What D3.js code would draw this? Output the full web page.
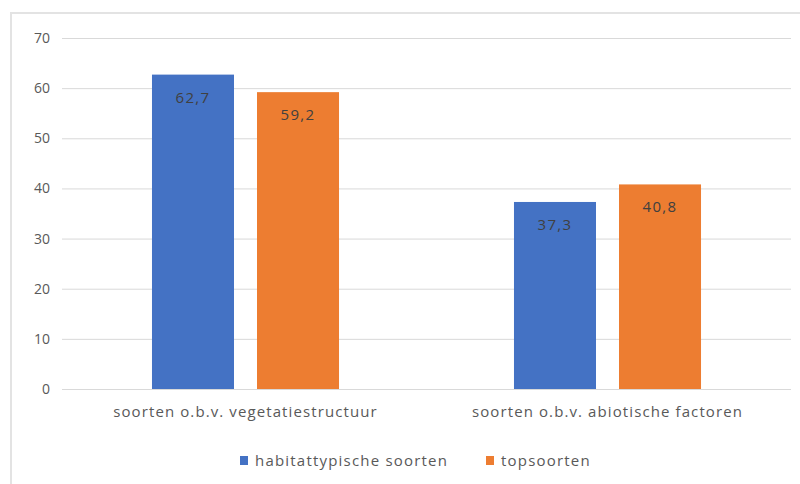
<!DOCTYPE html>
<html><head><meta charset="utf-8">
<script src="https://cdn.jsdelivr.net/npm/d3@7"></script>
<style>html,body{margin:0;padding:0;background:#fff;}svg{display:block;font-family:"Open Sans",sans-serif;}</style>
</head><body>
<svg id="c" width="800" height="484"></svg>
<script>
const categories = ["soorten o.b.v. vegetatiestructuur", "soorten o.b.v. abiotische factoren"];
const seriesNames = ["habitattypische soorten", "topsoorten"];
const habitattypische = [62.7, 37.3];
const topsoorten = [59.2, 40.8];
const yTicks = [0, 10, 20, 30, 40, 50, 60, 70];
const colors = ["#4472C4", "#ED7D31"];
const seriesValues = [habitattypische, topsoorten];

const svg = d3.select("#c");
svg.append("rect").attr("x", 11).attr("y", 13).attr("width", 800).attr("height", 480)
  .attr("fill", "#fff").attr("stroke", "#e3e3e3").attr("stroke-width", 2);

const y = d3.scaleLinear().domain([0, 70]).range([389, 38]);
const x = d3.scaleBand().domain(categories).range([64.5, 788.5]).padding(0);
const xi = d3.scaleBand().domain(seriesNames).range([0, x.bandwidth()])
  .paddingInner(23 / 105).paddingOuter(0.833);

// gridlines
svg.append("g").selectAll("line").data(yTicks).join("line")
  .attr("x1", 62).attr("x2", 791)
  .attr("y1", d => y(d) + 0.5).attr("y2", d => y(d) + 0.5)
  .attr("stroke", "#d9d9d9").attr("stroke-width", 1);

// y axis labels
const yAxis = d3.axisLeft(y).tickValues(yTicks).tickSize(0).tickPadding(0);
const ya = svg.append("g").attr("transform", "translate(50,0)").call(yAxis);
ya.select(".domain").remove();
ya.selectAll("text").attr("fill", "#595959").style("font-size", "14px").style("font-family", "Open Sans");

// bars
const data = [];
categories.forEach((c, i) => seriesNames.forEach((s, j) => data.push({c, s, j, v: seriesValues[j][i]})));
svg.append("g").selectAll("rect").data(data).join("rect")
  .attr("x", d => x(d.c) + xi(d.s))
  .attr("width", xi.bandwidth())
  .attr("y", d => y(d.v))
  .attr("height", d => y(0) - y(d.v))
  .attr("fill", d => colors[d.j]);

// data labels
svg.append("g").selectAll("text").data(data).join("text")
  .attr("x", d => x(d.c) + xi(d.s) + xi.bandwidth() / 2)
  .attr("y", d => y(d.v) + 28)
  .attr("text-anchor", "middle")
  .attr("fill", "#404040")
  .style("font-size", "15px")
  .style("letter-spacing", "1.3px")
  .text(d => d3.format(".1f")(d.v).replace(".", ","));

// category axis labels
const xAxis = d3.axisBottom(x).tickSize(0).tickPadding(0);
const xa = svg.append("g").attr("transform", "translate(0,406)").call(xAxis);
xa.select(".domain").remove();
xa.selectAll("text").attr("fill", "#595959").style("font-size", "15px")
  .style("font-family", "Open Sans").style("letter-spacing", "1.1px");

// legend
const legendX = [240, 486];
const lg = svg.append("g").selectAll("g").data(seriesNames).join("g")
  .attr("transform", (d, i) => `translate(${legendX[i]},456)`);
lg.append("rect").attr("width", 8).attr("height", 9).attr("fill", (d, i) => colors[i]);
lg.append("text").attr("x", 15).attr("y", 10).attr("fill", "#595959")
  .style("font-size", "15px").style("letter-spacing", "1.2px").text(d => d);
</script>
</body></html>
